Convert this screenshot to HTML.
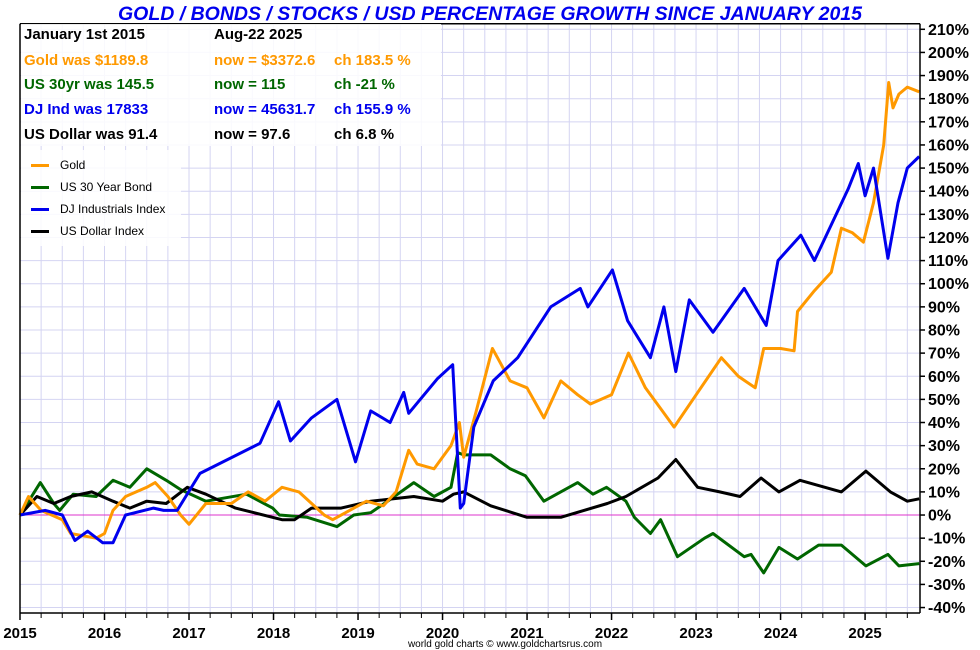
<!DOCTYPE html>
<html><head><meta charset="utf-8">
<style>
html,body{margin:0;padding:0;background:#fff;}
svg{display:block;font-family:"Liberation Sans",sans-serif;}
</style></head>
<body>
<svg id="chart" width="980" height="650" viewBox="0 0 980 650" xmlns="http://www.w3.org/2000/svg">
<rect x="0" y="0" width="980" height="650" fill="#fff"/>
<text x="490" y="20" text-anchor="middle" font-size="19.5" font-weight="bold" font-style="italic" fill="#0000ee">GOLD / BONDS / STOCKS / USD PERCENTAGE GROWTH SINCE JANUARY 2015</text>
<g id="grid"></g>
<g id="series"></g>
<g id="axes"></g>
<g>
<rect x="21" y="24" width="420" height="122" fill="#fff" opacity="0.85"/>
<g font-size="15" font-weight="bold">
<text x="24" y="39" fill="#000">January 1st 2015</text><text x="214" y="39" fill="#000">Aug-22  2025</text>
<text x="24" y="65" fill="#ff9900">Gold was $1189.8</text><text x="214" y="65" fill="#ff9900">now = $3372.6</text><text x="334" y="65" fill="#ff9900">ch 183.5 %</text>
<text x="24" y="89" fill="#006600">US 30yr was 145.5</text><text x="214" y="89" fill="#006600">now = 115</text><text x="334" y="89" fill="#006600">ch -21 %</text>
<text x="24" y="114" fill="#0000ee">DJ Ind was 17833</text><text x="214" y="114" fill="#0000ee">now = 45631.7</text><text x="334" y="114" fill="#0000ee">ch 155.9 %</text>
<text x="24" y="139" fill="#000">US Dollar was 91.4</text><text x="214" y="139" fill="#000">now = 97.6</text><text x="334" y="139" fill="#000">ch 6.8 %</text>
</g>
</g>
<g>
<rect x="21" y="150" width="160" height="96" fill="#fff" opacity="0.85"/>
<g font-size="12" fill="#000">
<g><rect x="31" y="164" width="18" height="3" fill="#ff9900"/><text x="60" y="169">Gold</text></g>
<g><rect x="31" y="186" width="18" height="3" fill="#006600"/><text x="60" y="191">US 30 Year Bond</text></g>
<g><rect x="31" y="208" width="18" height="3" fill="#0000ee"/><text x="60" y="213">DJ Industrials Index</text></g>
<g><rect x="31" y="230" width="18" height="3" fill="#000"/><text x="60" y="235">US Dollar Index</text></g>
</g>
</g>
<text x="505" y="647" text-anchor="middle" font-size="10" fill="#000">world gold charts © www.goldchartsrus.com</text>
</svg>
<script>
const yearTicks = [2015,2016,2017,2018,2019,2020,2021,2022,2023,2024,2025];
const pctTicks = [-40,-30,-20,-10,0,10,20,30,40,50,60,70,80,90,100,110,120,130,140,150,160,170,180,190,200,210];

const goldT = [2015,2015.1,2015.25,2015.5,2015.6,2015.9,2016,2016.1,2016.25,2016.5,2016.6,2016.75,2016.9,2017,2017.2,2017.5,2017.7,2017.9,2018.1,2018.3,2018.6,2018.7,2018.9,2019.1,2019.3,2019.45,2019.6,2019.7,2019.9,2020.1,2020.2,2020.25,2020.4,2020.59,2020.65,2020.8,2021,2021.2,2021.4,2021.6,2021.75,2022,2022.2,2022.4,2022.6,2022.74,2023,2023.3,2023.5,2023.7,2023.8,2024,2024.16,2024.2,2024.4,2024.6,2024.72,2024.85,2024.98,2025.1,2025.22,2025.28,2025.33,2025.4,2025.5,2025.64];
const goldV = [0,8,2,-2,-8,-10,-8,2,8,12,14,8,0,-4,5,5,10,6,12,10,0,-2,2,6,4,10,28,22,20,30,40,25,45,72,68,58,55,42,58,52,48,52,70,55,45,38,52,68,60,55,72,72,71,88,97,105,124,122,118,135,160,187,176,182,185,183];

const bondT = [2015,2015.24,2015.4,2015.47,2015.63,2015.9,2016.1,2016.3,2016.5,2016.73,2016.9,2017.2,2017.68,2017.99,2018.07,2018.4,2018.75,2018.95,2019.15,2019.35,2019.66,2019.9,2020.1,2020.18,2020.25,2020.57,2020.8,2020.98,2021.2,2021.6,2021.78,2021.94,2022.17,2022.27,2022.46,2022.58,2022.78,2023.1,2023.2,2023.57,2023.65,2023.8,2023.98,2024.2,2024.45,2024.72,2025.01,2025.27,2025.4,2025.64];
const bondV = [0,14,5,2,9,8,15,12,20,15,11,6,9,3,0,-1,-5,0,1,6,14,8,12,27,26,26,20,17,6,14,9,12,6,-1,-8,-2,-18,-10,-8,-18,-17,-25,-14,-19,-13,-13,-22,-17,-22,-21];

const djT = [2015,2015.3,2015.5,2015.65,2015.8,2015.98,2016.1,2016.25,2016.58,2016.7,2016.86,2017.13,2017.84,2018.06,2018.2,2018.45,2018.75,2018.97,2019.15,2019.38,2019.54,2019.6,2019.94,2020.12,2020.21,2020.25,2020.37,2020.6,2020.89,2021.28,2021.63,2021.72,2022.01,2022.19,2022.46,2022.62,2022.76,2022.92,2023.2,2023.57,2023.83,2023.97,2024.24,2024.4,2024.8,2024.92,2025,2025.1,2025.27,2025.39,2025.5,2025.64];
const djV = [0,2,0,-11,-7,-12,-12,0,3,2,2,18,31,49,32,42,50,23,45,40,53,44,59,65,3,5,38,58,68,90,98,90,106,84,68,90,62,93,79,98,82,110,121,110,141,152,138,150,111,135,150,155];

const usdT = [2015,2015.2,2015.4,2015.6,2015.85,2016.1,2016.3,2016.5,2016.73,2016.98,2017.2,2017.55,2017.77,2018.1,2018.25,2018.45,2018.8,2019.15,2019.66,2020,2020.13,2020.25,2020.57,2021,2021.4,2021.95,2022.17,2022.55,2022.76,2023.02,2023.28,2023.52,2023.77,2023.98,2024.23,2024.72,2025.01,2025.3,2025.5,2025.64];
const usdV = [0,8,5,8,10,6,3,6,5,12,9,3,1,-2,-2,3,3,6,8,6,9,10,4,-1,-1,5,8,16,24,12,10,8,16,10,15,10,19,10,6,7];

const X0=20, X1=920, T0=2015, T1=2025.65, YTOP=29.3, VTOP=210, PXPER=2.313;
function xScale(t){return X0+(t-T0)/(T1-T0)*(X1-X0);}
function yScale(v){return YTOP+(VTOP-v)*PXPER;}
const NS="http://www.w3.org/2000/svg";
function mk(tag,attrs,parent){const e=document.createElementNS(NS,tag);for(const k in attrs)e.setAttribute(k,attrs[k]);parent.appendChild(e);return e;}

const grid=document.getElementById('grid');
const axes=document.getElementById('axes');
const PT=23.7, PB=613;
for(let q=T0;q<=T1;q+=0.25){
  const x=xScale(q);
  const l=mk('line',{x1:x,x2:x,y1:PT,y2:PB,stroke:'#d4d4f2','stroke-width':1},grid);
  
  
  const t=mk('line',{x1:x,x2:x,y1:PB,y2:PB+5,stroke:'#000','stroke-width':1},axes);
  
  
}
pctTicks.forEach(v=>{
  const y=yScale(v);
  const l=mk('line',{x1:X0,x2:X1,y1:y,y2:y,stroke:v===0?'#dd33cc':'#d4d4f2','stroke-width':1},grid);
  
  
  const t=mk('line',{x1:X1,x2:X1+5,y1:y,y2:y,stroke:'#000','stroke-width':1.5},axes);
  
  
  const tx=mk('text',{x:928,y:y+5.5,'font-size':16,'font-weight':'bold',fill:'#000'},axes);
  tx.textContent=v+'%';
  
  
});
yearTicks.forEach(yr=>{
  const x=xScale(yr);
  const t=mk('line',{x1:x,x2:x,y1:PB,y2:PB+7,stroke:'#000','stroke-width':1.5},axes);
  
  
  const tx=mk('text',{x:x,y:638,'font-size':15,'font-weight':'bold','text-anchor':'middle',fill:'#000'},axes);
  tx.textContent=yr;
  
  
});
const la=mk('line',{x1:X0,x2:X0,y1:PT,y2:PB,stroke:'#000','stroke-width':1.5},axes);


const ra=mk('line',{x1:X1,x2:X1,y1:PT,y2:PB,stroke:'#000','stroke-width':1.5},axes);


const ta=mk('line',{x1:X0,x2:X1,y1:PT,y2:PT,stroke:'#000','stroke-width':1.5},axes);


const ba=mk('line',{x1:X0,x2:X1,y1:PB,y2:PB,stroke:'#000','stroke-width':1.5},axes);



const series=document.getElementById('series');
function drawLine(ts,vs,color,name){
  const pts=ts.map((t,i)=>xScale(t).toFixed(1)+','+yScale(vs[i]).toFixed(1)).join(' ');
  const p=mk('polyline',{points:pts,fill:'none',stroke:color,'stroke-width':3,'stroke-linejoin':'round'},series);
  
  
}
drawLine(bondT,bondV,'#006600','bond-line');
drawLine(usdT,usdV,'#000000','usd-line');
drawLine(goldT,goldV,'#ff9900','gold-line');
drawLine(djT,djV,'#0000ee','dj-line');
</script>
</body></html>
